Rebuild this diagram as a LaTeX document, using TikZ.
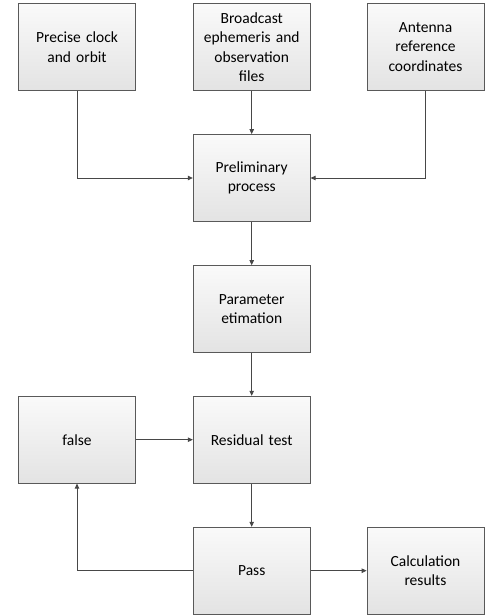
\documentclass[tikz,border=0pt]{standalone}
\usepackage{fontspec}
\setmainfont{Carlito}
\usetikzlibrary{arrows.meta}
\begin{document}
\begin{tikzpicture}[x=1pt,y=-1pt,
  box/.style={draw=black!65, line width=0.8pt, top color=black!2, bottom color=black!11,
    minimum width=117pt, minimum height=87pt, inner sep=2pt, align=center,
    text width=110pt, font=\fontsize{15.5}{19.5}\selectfont},
  conn/.style={draw=black!72, line width=0.8pt, -{Triangle[length=5pt,width=4.5pt]}}]
\useasboundingbox (0,0) rectangle (485,615);
\node[box] (pc)   at (77,47)     {Precise clock\\and orbit};
\node[box] (be)   at (251.7,47)  {Broadcast\\ephemeris and\\observation\\files};
\node[box] (ar)   at (425.5,47)  {Antenna\\reference\\coordinates};
\node[box] (pre)  at (251.7,178) {Preliminary\\process};
\node[box] (par)  at (251.7,309) {Parameter\\etimation};
\node[box] (res)  at (251.7,439.7) {Residual test};
\node[box] (fal)  at (77,439.7)  {false};
\node[box] (pas)  at (251.7,570.7) {Pass};
\node[box] (cal)  at (425.5,570.7) {Calculation\\results};
\draw[conn] (pc.south) |- (pre.west);
\draw[conn] (be) -- (pre);
\draw[conn] (ar.south) |- (pre.east);
\draw[conn] (pre) -- (par);
\draw[conn] (par) -- (res);
\draw[conn] (fal) -- (res);
\draw[conn] (res) -- (pas);
\draw[conn] (pas.west) -| (fal.south);
\draw[conn] (pas) -- (cal);
\end{tikzpicture}
\end{document}
